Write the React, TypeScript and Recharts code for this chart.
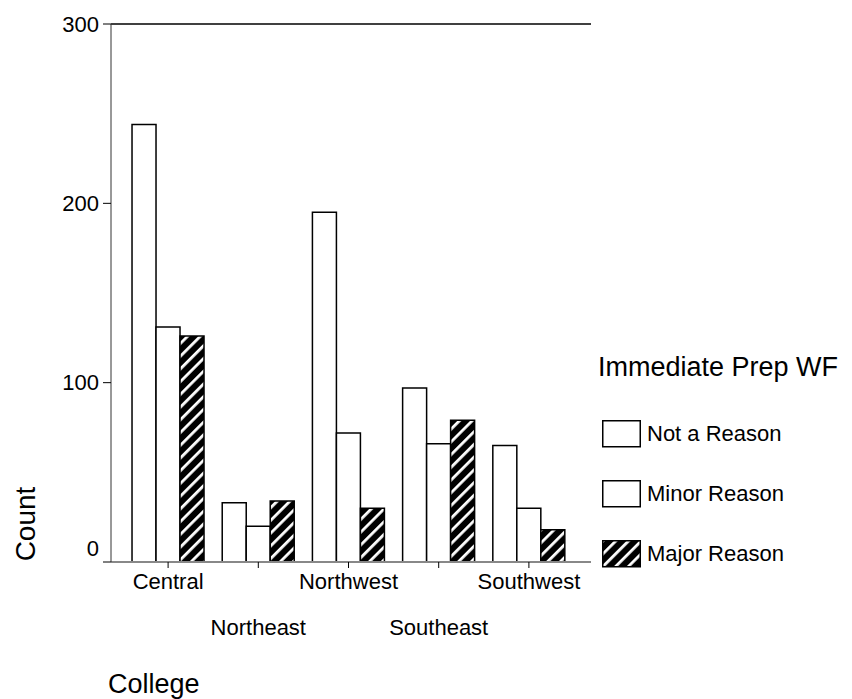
import { BarChart, Bar, XAxis, YAxis, Legend, ReferenceLine } from "recharts";

const FONT = "'Liberation Sans', Arial, sans-serif";

const categories = ["Central", "Northeast", "Northwest", "Southeast", "Southwest"];
const notAReason = [244, 33, 195, 97, 65];
const minorReason = [131, 20, 72, 66, 30];
const majorReason = [126, 34, 30, 79, 18];
const yTicks = [0, 100, 200, 300];
const seriesOrder = ["Not a Reason", "Minor Reason", "Major Reason"];

const data = categories.map((name, i) => ({
  name,
  notAReason: notAReason[i],
  minorReason: minorReason[i],
  majorReason: majorReason[i]
}));

function XTick({ x, y, payload, index }: any) {
  // labels alternate between two rows
  const dy = index % 2 === 0 ? 19 : 65;
  return (
    <text x={x} y={y} dy={dy} textAnchor="middle" fontSize={22} fontFamily={FONT} fill="#000">
      {payload.value}
    </text>
  );
}

function YTick({ x, y, payload }: any) {
  const shift = payload.value === 0 ? -14 : 0;
  return (
    <text x={x} y={y + shift} dy="0.355em" textAnchor="end" fontSize={22} fontFamily={FONT} fill="#000">
      {payload.value}
    </text>
  );
}

function CountLabel({ viewBox }: any) {
  const cx = viewBox.x - 26;
  const cy = viewBox.y + viewBox.height - 38;
  return (
    <text
      x={cx}
      y={cy}
      transform={`rotate(-90 ${cx} ${cy})`}
      textAnchor="middle"
      fontSize={28}
      fontFamily={FONT}
      fill="#000"
    >
      Count
    </text>
  );
}

function CollegeLabel({ viewBox }: any) {
  return (
    <text x={viewBox.x - 3} y={viewBox.y + 131} fontSize={27} fontFamily={FONT} fill="#000">
      College
    </text>
  );
}

function LegendContent({ payload }: any) {
  const items = [...(payload || [])].sort(
    (a: any, b: any) => seriesOrder.indexOf(a.value) - seriesOrder.indexOf(b.value)
  );
  return (
    <div style={{ fontFamily: FONT, color: "#000" }}>
      <div style={{ fontSize: 27, lineHeight: "32px", whiteSpace: "nowrap", marginBottom: 21 }}>
        Immediate Prep WF
      </div>
      {items.map((entry: any) => (
        <div
          key={entry.value}
          style={{ display: "flex", alignItems: "center", height: 60, marginLeft: 4 }}
        >
          <svg width={40} height={28}>
            <rect x={0.75} y={0.75} width={37.5} height={26} fill={entry.color} stroke="#000" strokeWidth={1.5} />
          </svg>
          <span style={{ fontSize: 22, marginLeft: 5 }}>{entry.value}</span>
        </div>
      ))}
    </div>
  );
}

export default function App() {
  return (
    <div style={{ position: "absolute", left: 0, top: 0, width: 852, height: 699, background: "#fff" }}>
      <BarChart
        width={852}
        height={699}
        data={data}
        margin={{ top: 24, right: 261, bottom: 67, left: 61 }}
        barCategoryGap="10%"
        barGap={0}
      >
        <defs>
          <pattern id="hatch" width="9" height="9" patternUnits="userSpaceOnUse" patternTransform="rotate(45)">
            <rect width="9" height="9" fill="#000" />
            <rect width="2.8" height="9" fill="#fff" />
          </pattern>
        </defs>

        <XAxis
          dataKey="name"
          interval={0}
          padding={{ left: 12, right: 17 }}
          height={70}
          tickSize={6}
          tickLine={{ stroke: "#000" }}
          axisLine={{ stroke: "#888", strokeWidth: 2 }}
          tick={<XTick />}
          label={<CollegeLabel />}
        />
        <YAxis
          domain={[0, 300]}
          ticks={yTicks}
          width={50}
          tickSize={8}
          tickMargin={4}
          tickLine={{ stroke: "#000" }}
          axisLine={{ stroke: "#333" }}
          tick={<YTick />}
          label={<CountLabel />}
        />
        <YAxis
          yAxisId="right"
          orientation="right"
          domain={[0, 300]}
          width={0}
          tick={false}
          tickLine={false}
          axisLine={{ stroke: "#000", strokeWidth: 1.5 }}
        />
        <ReferenceLine y={300} stroke="#000" strokeWidth={1.5} />

        <Bar dataKey="notAReason" name="Not a Reason" fill="#fff" stroke="#000" strokeWidth={1.5} isAnimationActive={false} />
        <Bar dataKey="minorReason" name="Minor Reason" fill="#fff" stroke="#000" strokeWidth={1.5} isAnimationActive={false} />
        <Bar dataKey="majorReason" name="Major Reason" fill="url(#hatch)" stroke="#000" strokeWidth={1.5} isAnimationActive={false} />

        <Legend
          layout="horizontal"
          verticalAlign="middle"
          align="center"
          content={<LegendContent />}
          wrapperStyle={{ position: "absolute", left: 598, top: 351, width: 254, height: "auto" }}
        />
      </BarChart>
    </div>
  );
}
